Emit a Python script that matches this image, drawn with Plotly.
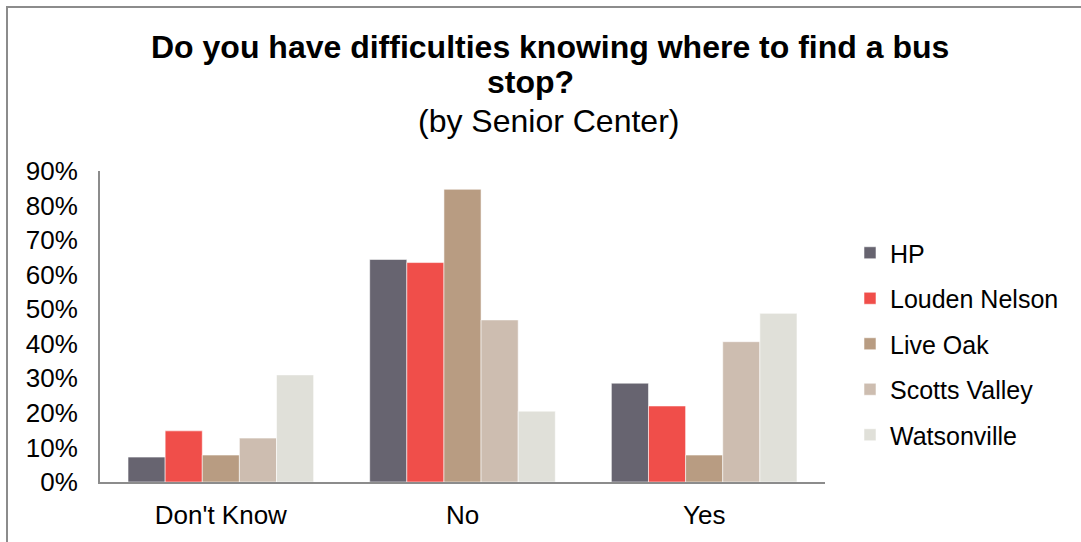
import plotly.graph_objects as go

# Survey answers and share of respondents per senior center
categories = ["Don't Know", "No", "Yes"]
centers = ["HP", "Louden Nelson", "Live Oak", "Scotts Valley", "Watsonville"]
hp = [0.072, 0.644, 0.286]
louden_nelson = [0.148, 0.635, 0.220]
live_oak = [0.078, 0.847, 0.078]
scotts_valley = [0.127, 0.469, 0.406]
watsonville = [0.310, 0.205, 0.488]
series = [hp, louden_nelson, live_oak, scotts_valley, watsonville]
colors = ["#676470", "#F04E4A", "#B89C82", "#CDBDB0", "#E0E0D9"]
y_ticks = [0, 0.1, 0.2, 0.3, 0.4, 0.5, 0.6, 0.7, 0.8, 0.9]

W, H = 1081, 542
L, R, T, B = 100, 825, 171, 482   # plot area in pixels
FONT = "Liberation Sans, Arial, sans-serif"


def px_x(p):
    return (p - L) / (R - L)


def px_y(p):
    return (B - p) / (B - T)


fig = go.Figure()
for name, vals, col in zip(centers, series, colors):
    fig.add_trace(go.Bar(
        x=categories, y=vals, name=name, legendgroup=name,
        marker=dict(color=col, line=dict(color="rgba(255,255,255,0.55)", width=1)),
    ))

# chart frame
fig.add_shape(type="rect", xref="paper", yref="paper",
              x0=px_x(7), x1=px_x(1200), y0=px_y(700), y1=px_y(7),
              line=dict(color="#8C8C8C", width=2), fillcolor="rgba(0,0,0,0)",
              layer="below")

# title lines
fig.add_annotation(text="<b>Do you have difficulties knowing where to find a bus</b>",
                   xref="paper", yref="paper", x=px_x(550), y=px_y(47),
                   xanchor="center", yanchor="middle", showarrow=False,
                   font=dict(family=FONT, size=32, color="black"))
fig.add_annotation(text="<b>stop?</b>",
                   xref="paper", yref="paper", x=px_x(530), y=px_y(82),
                   xanchor="center", yanchor="middle", showarrow=False,
                   font=dict(family=FONT, size=32, color="black"))
fig.add_annotation(text="(by Senior Center)",
                   xref="paper", yref="paper", x=px_x(548), y=px_y(121),
                   xanchor="center", yanchor="middle", showarrow=False,
                   font=dict(family=FONT, size=32, color="black"))

fig.update_layout(
    width=W, height=H,
    margin=dict(l=L, r=W - R, t=T, b=H - B, pad=0, autoexpand=False),
    paper_bgcolor="white", plot_bgcolor="white",
    barmode="group", bargap=0.232, bargroupgap=0,
    font=dict(family=FONT, size=26, color="black"),
    showlegend=True,
    legend=dict(x=px_x(850), y=px_y(230), xanchor="left", yanchor="top",
                font=dict(family=FONT, size=25, color="black"),
                tracegroupgap=10, itemclick=False, bgcolor="rgba(0,0,0,0)"),
    xaxis=dict(showline=True, linecolor="#8C8C8C", linewidth=2,
               showgrid=False, ticks="", ticklabelstandoff=9,
               automargin=False, tickfont=dict(size=26)),
    yaxis=dict(range=[0, 0.9], tickvals=y_ticks, tickformat=".0%",
               showline=True, linecolor="#8C8C8C", linewidth=2,
               showgrid=False, zeroline=False, ticks="",
               ticklabelstandoff=15, automargin=False,
               tickfont=dict(size=26)),
)

fig.write_html("out.html")
